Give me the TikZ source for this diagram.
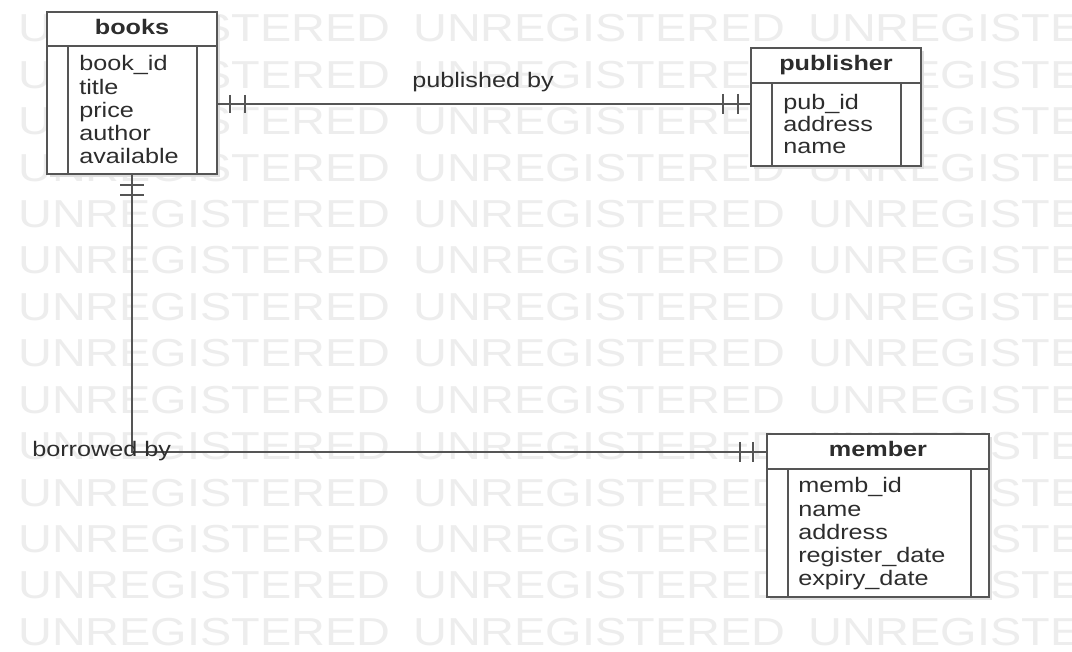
\documentclass[tikz,border=0pt]{standalone}
\usepackage{fontspec}
\setmainfont{Liberation Sans}
\newfontfamily\erfont[FakeStretch=1.2]{Liberation Sans}
\usetikzlibrary{calc,fit,shadows}
\definecolor{linegray}{RGB}{85,85,85}
\definecolor{textgray}{RGB}{45,45,45}
\definecolor{wmgray}{RGB}{237,237,237}
\definecolor{shadowgray}{RGB}{222,222,222}
\tikzset{
  entity/.style={draw=linegray, line width=1.5pt, fill=white, inner sep=0pt, outer sep=0pt,
    drop shadow={shadow xshift=2.5pt, shadow yshift=-2.5pt, fill=shadowgray, opacity=1}},
  part/.style={draw=linegray, line width=1.5pt},
  heading/.style={font=\erfont\bfseries\fontsize{15.75pt}{18pt}\selectfont, text=textgray, anchor=base, inner sep=0pt},
  attr/.style={font=\erfont\fontsize{15.75pt}{18pt}\selectfont, text=textgray, anchor=base west, inner sep=0pt},
  rel/.style={font=\erfont\fontsize{15.75pt}{18pt}\selectfont, text=textgray, anchor=base west, inner sep=0pt},
  wm/.style={font=\erfont\fontsize{29.25pt}{30pt}\selectfont, text=wmgray, anchor=base west, inner sep=0pt},
  conn/.style={draw=linegray, line width=1.5pt},
}
\begin{document}
\begin{tikzpicture}[x=0.75pt,y=-0.75pt]
\useasboundingbox[fill=white] (0,0) rectangle (1072,652);
% watermark
\begin{scope}
\clip (0,0) rectangle (1072,652);
\foreach \r in {0,...,13}{
  \foreach \c/\xx in {0/18,1/413,2/808}{
    \node[wm] (wm-\r-\c) at (\xx,{42+46.4*\r}) {UNREGISTERED};
  }
}
\end{scope}

% books
\node[entity, fit={(47,12) (217,174)}] (books) {};
\draw[part] (books.west |- 0,46) -- (books.east |- 0,46);
\draw[part] (68,46) -- (68,174);
\draw[part] (197,46) -- (197,174);
\node[heading] (books-h) at (132,35) {books};
\foreach \t [count=\i from 0] in {book\_id,title,price,author,available}{
  \node[attr] (books-\i) at (79,{71+23.1*\i}) {\t};
}

% publisher
\node[entity, fit={(751,48) (921,166)}] (publisher) {};
\draw[part] (publisher.west |- 0,83) -- (publisher.east |- 0,83);
\draw[part] (772,83) -- (772,166);
\draw[part] (901,83) -- (901,166);
\node[heading] (publisher-h) at (836,71) {publisher};
\foreach \t [count=\i from 0] in {pub\_id,address,name}{
  \node[attr] (publisher-\i) at (783,{110+22*\i}) {\t};
}

% member
\node[entity, fit={(767,434) (989,597)}] (member) {};
\draw[part] (member.west |- 0,469) -- (member.east |- 0,469);
\draw[part] (788,469) -- (788,597);
\draw[part] (971,469) -- (971,597);
\node[heading] (member-h) at (878,457) {member};
\foreach \t [count=\i from 0] in {memb\_id,name,address,register\_date,expiry\_date}{
  \node[attr] (member-\i) at (798,{493+23.2*\i}) {\t};
}

% published by
\coordinate (pubrow) at (0,104);
\draw[conn] (books.east |- pubrow) -- (publisher.west |- pubrow);
\draw[conn] ($(books.east |- pubrow)+(13,-9)$) -- ++(0,18);
\draw[conn] ($(books.east |- pubrow)+(28,-9)$) -- ++(0,18);
\draw[conn] ($(publisher.west |- pubrow)+(-13,-10)$) -- ++(0,20);
\draw[conn] ($(publisher.west |- pubrow)+(-28,-10)$) -- ++(0,20);
\node[rel] (pubby) at (412,88) {published by};

% borrowed by
\coordinate (borrow) at (0,452);
\draw[conn] (books.south) |- (member.west |- borrow);
\draw[conn] ($(books.south)+(-12,11)$) -- ++(24,0);
\draw[conn] ($(books.south)+(-12,21)$) -- ++(24,0);
\draw[conn] ($(member.west |- borrow)+(-14,-10)$) -- ++(0,20);
\draw[conn] ($(member.west |- borrow)+(-27,-10)$) -- ++(0,20);
\node[rel] (borby) at (32,456) {borrowed by};
\end{tikzpicture}
\end{document}
